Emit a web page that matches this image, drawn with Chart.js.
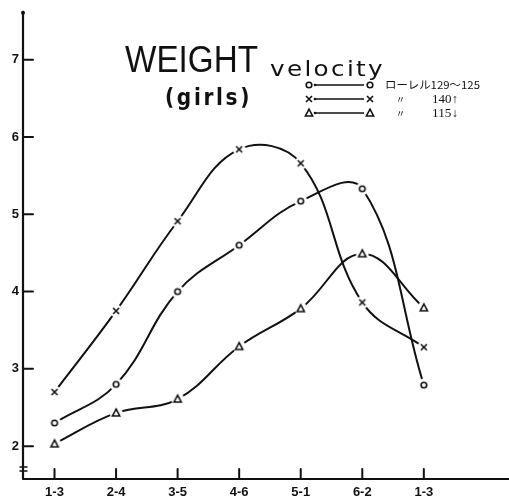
<!DOCTYPE html>
<html>
<head>
<meta charset="utf-8">
<script src="https://cdn.jsdelivr.net/npm/chart.js@4.4.1/dist/chart.umd.min.js"></script>
<style>
  html, body { margin: 0; padding: 0; background: #fff; overflow: hidden; }
  #wrap { width: 509px; height: 502px; position: relative; }
</style>
</head>
<body>
<div id="wrap"><canvas id="c"></canvas></div>
<script>
const categories = ['1-3', '2-4', '3-5', '4-6', '5-1', '6-2', '1-3'];
const rohrerMid  = [2.30, 2.80, 4.00, 4.60, 5.17, 5.33, 2.79];
const rohrerHigh = [2.70, 3.75, 4.91, 5.84, 5.66, 3.86, 3.28];
const rohrerLow  = [2.03, 2.43, 2.61, 3.29, 3.78, 4.49, 3.79];
const yTickValues = [2, 3, 4, 5, 6, 7];
const titleMain = 'WEIGHT';
const titleSub = 'velocity';
const titleGroup = '(girls)';
const legendTexts = ['ローレル129〜125', '140↑', '115↓'];
const dittoMark = '〃';

const INK = '#111';

function drawGlyph(ctx, type, cx, cy) {
  ctx.save();
  ctx.strokeStyle = INK;
  ctx.lineWidth = 1.6;
  ctx.beginPath();
  if (type === 'o') {
    ctx.arc(cx, cy, 2.8, 0, Math.PI * 2);
  } else if (type === 'x') {
    ctx.moveTo(cx - 3, cy - 3); ctx.lineTo(cx + 3, cy + 3);
    ctx.moveTo(cx + 3, cy - 3); ctx.lineTo(cx - 3, cy + 3);
  } else {
    ctx.moveTo(cx, cy - 3.8); ctx.lineTo(cx + 3.6, cy + 3); ctx.lineTo(cx - 3.6, cy + 3); ctx.closePath();
  }
  ctx.stroke();
  ctx.restore();
}

function makeMarker(type) {
  const c = document.createElement('canvas');
  c.width = 16; c.height = 16;
  const g = c.getContext('2d');
  g.fillStyle = '#fff';
  g.beginPath(); g.arc(8, 8, 6.5, 0, Math.PI * 2); g.fill();
  drawGlyph(g, type, 8, 8);
  return c;
}

function toPoints(arr) { return arr.map((v, i) => ({ x: i, y: v })); }

function ds(label, arr, type) {
  return {
    label: label,
    data: toPoints(arr),
    borderColor: INK,
    backgroundColor: INK,
    borderWidth: 2,
    tension: 0.4,
    pointStyle: makeMarker(type),
    pointRadius: 5,
    fill: false
  };
}

function fitText(ctx, text, x, baseline, width, font, spacing) {
  ctx.save();
  ctx.font = font;
  if (spacing) ctx.letterSpacing = spacing + 'px';
  const w = ctx.measureText(text).width;
  ctx.translate(x, baseline);
  ctx.scale(width / w, 1);
  ctx.textBaseline = 'alphabetic';
  ctx.textAlign = 'left';
  ctx.fillStyle = INK;
  ctx.fillText(text, 0, 0);
  ctx.restore();
}

const decorPlugin = {
  id: 'decor',
  afterDraw(chart) {
    const ctx = chart.ctx;
    const xs = chart.scales.x, ys = chart.scales.y;
    const a = chart.chartArea;
    ctx.save();
    ctx.strokeStyle = INK;
    ctx.lineCap = 'round';
    // axes
    ctx.lineWidth = 2.2;
    ctx.beginPath();
    ctx.moveTo(a.left, a.top); ctx.lineTo(a.left, a.bottom);
    ctx.moveTo(a.left, a.bottom); ctx.lineTo(chart.width, a.bottom);
    ctx.stroke();
    ctx.fillStyle = INK;
    ctx.beginPath(); ctx.arc(a.left, a.top + 1, 2, 0, Math.PI * 2); ctx.fill();
    // inward ticks
    ctx.lineWidth = 2;
    ctx.beginPath();
    yTickValues.forEach(v => {
      const py = ys.getPixelForValue(v);
      ctx.moveTo(a.left, py); ctx.lineTo(a.left + 10, py);
    });
    categories.forEach((c, i) => {
      const px = xs.getPixelForValue(i);
      ctx.moveTo(px, a.bottom); ctx.lineTo(px, a.bottom - 10);
    });
    ctx.stroke();
    // axis break symbol
    ctx.lineWidth = 1.5;
    ctx.beginPath();
    ctx.moveTo(a.left - 3, a.bottom - 12); ctx.lineTo(a.left + 4, a.bottom - 12);
    ctx.moveTo(a.left - 3, a.bottom - 8); ctx.lineTo(a.left + 4, a.bottom - 8);
    ctx.stroke();
    ctx.restore();

    // titles
    fitText(ctx, titleMain, 125, 72, 133, '37px "Liberation Sans"', 0);
    fitText(ctx, titleSub, 270, 76, 115, '21px "DejaVu Sans"', 2);
    fitText(ctx, titleGroup, 165, 105, 87, 'bold 23px "DejaVu Sans"', 3);

    // legend
    const rows = [['o', 85], ['x', 99], ['t', 113]];
    ctx.save();
    rows.forEach(([t, y]) => {
      drawGlyph(ctx, t, 309, y);
      drawGlyph(ctx, t, 370, y);
      ctx.strokeStyle = INK;
      ctx.lineWidth = 1.3;
      ctx.beginPath();
      ctx.moveTo(315, y); ctx.lineTo(364, y);
      ctx.stroke();
      ctx.fillStyle = INK;
      ctx.beginPath(); ctx.arc(315, y, 1.3, 0, Math.PI * 2); ctx.fill();
    });
    ctx.restore();
    fitText(ctx, legendTexts[0], 385, 89, 95, '11px "Noto Sans CJK JP"', 0);
    fitText(ctx, dittoMark, 396, 103, 9, '10px "Noto Sans CJK JP"', 0);
    fitText(ctx, legendTexts[1], 432, 103, 26, '12px "Liberation Serif"', 0);
    fitText(ctx, dittoMark, 396, 117, 9, '10px "Noto Sans CJK JP"', 0);
    fitText(ctx, legendTexts[2], 432, 117, 26, '12px "Liberation Serif"', 0);
  }
};

new Chart(document.getElementById('c'), {
  type: 'line',
  data: {
    datasets: [
      ds('ローレル129〜125', rohrerMid, 'o'),
      ds('140↑', rohrerHigh, 'x'),
      ds('115↓', rohrerLow, 't')
    ]
  },
  options: {
    responsive: true,
    maintainAspectRatio: false,
    animation: false,
    layout: { padding: { top: 10, right: 0, left: 0, bottom: 0 } },
    plugins: { legend: { display: false }, tooltip: { enabled: false } },
    scales: {
      x: {
        type: 'linear',
        min: -0.512,
        max: 7.27,
        grid: { display: false, drawTicks: false },
        border: { display: false },
        afterBuildTicks(s) { s.ticks = categories.map((c, i) => ({ value: i })); },
        afterFit(s) { s.height = 23; },
        ticks: {
          autoSkip: false,
          maxRotation: 0,
          padding: 6,
          color: INK,
          font: { family: '"Liberation Sans"', size: 13, weight: 'bold' },
          callback: (v) => categories[v] !== undefined ? categories[v] : ''
        }
      },
      y: {
        type: 'linear',
        min: 1.575,
        max: 7.62,
        grid: { display: false, drawTicks: false },
        border: { display: false },
        afterBuildTicks(s) { s.ticks = yTickValues.map(v => ({ value: v })); },
        afterFit(s) { s.width = 23; },
        ticks: {
          padding: 4,
          color: INK,
          font: { family: '"Liberation Sans"', size: 13, weight: 'bold' },
          callback: (v) => String(v)
        }
      }
    }
  },
  plugins: [decorPlugin]
});
</script>
</body>
</html>
